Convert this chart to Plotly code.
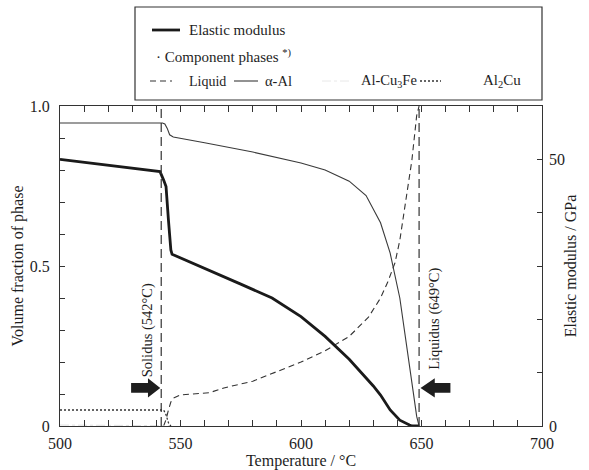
import plotly.graph_objects as go

# Elastic modulus (GPa) versus temperature (°C)
temp_modulus = [500, 520, 541.5, 543, 544, 545, 546, 546.5, 560, 575, 588, 600,
                610, 620, 630, 633, 637, 641, 645, 646, 649]
modulus = [50.0, 48.9, 47.7, 46.1, 44.9, 38.6, 33.0, 32.2, 29.6, 26.6, 24.0, 20.5,
           16.8, 12.5, 7.5, 5.8, 3.0, 1.1, 0.2, 0.0, 0.0]

# Volume fraction of the component phases
temp_liquid = [543, 544, 545, 546, 547, 550, 555, 562, 568, 580, 590, 600, 610,
               620, 628, 633, 636, 639, 641, 643, 645, 646, 647, 648, 649]
liquid = [0.0, 0.02, 0.05, 0.075, 0.087, 0.097, 0.10, 0.104, 0.119, 0.14, 0.17, 0.20,
          0.235, 0.28, 0.34, 0.40, 0.45, 0.51, 0.58, 0.675, 0.77, 0.83, 0.90, 0.97, 1.0]

temp_alpha = [500, 542.5, 543.5, 544.5, 545.5, 547, 560, 580, 600, 610, 620, 627,
              633, 637, 641, 644, 646.5, 648, 649]
alpha_al = [0.947, 0.947, 0.944, 0.93, 0.91, 0.903, 0.885, 0.856, 0.822, 0.80, 0.765,
            0.72, 0.635, 0.54, 0.40, 0.25, 0.11, 0.03, 0.0]

temp_cu3fe = [500, 544, 545, 546]
al_cu3fe = [0.003, 0.003, 0.001, 0.0]

temp_al2cu = [500, 543, 544, 545, 546]
al2cu = [0.05, 0.05, 0.035, 0.01, 0.0]

solidus = 542
liquidus = 649

x_ticks = [500, 550, 600, 650, 700]
y_ticks = [0, 0.5, 1.0]
y_tick_text = ["0", "0.5", "1.0"]
e_ticks = [0, 50]

FONT = "Liberation Serif"
INK = "#1e1e1e"

fig = go.Figure()

fig.add_trace(go.Scatter(x=temp_liquid, y=liquid, mode="lines", name="Liquid",
                         line=dict(color="#333", width=1.1, dash="6px,4px")))
fig.add_trace(go.Scatter(x=temp_alpha, y=alpha_al, mode="lines", name="α-Al",
                         line=dict(color="#3a3a3a", width=1.1)))
fig.add_trace(go.Scatter(x=temp_cu3fe, y=al_cu3fe, mode="lines", name="Al-Cu3Fe",
                         line=dict(color="#d8d8d8", width=0.8, dash="dashdot")))
fig.add_trace(go.Scatter(x=temp_al2cu, y=al2cu, mode="lines", name="Al2Cu",
                         line=dict(color="#333", width=1.3, dash="2px,2px")))
fig.add_trace(go.Scatter(x=temp_modulus, y=modulus, mode="lines", name="Elastic modulus",
                         yaxis="y2", line=dict(color="#1a1a1a", width=2.8)))

shapes = []
# solidus / liquidus markers
for t in (solidus, liquidus):
    shapes.append(dict(type="line", xref="x", yref="y", x0=t, x1=t, y0=0, y1=1,
                       line=dict(color="#333", width=1.2, dash="9px,5px")))

# block arrows pointing at the solidus and liquidus lines
yc, sh, hh = 0.119, 0.015, 0.03
shapes.append(dict(type="path", xref="x", yref="y", fillcolor=INK, line=dict(width=0),
                   path=f"M 529.5 {yc-sh} L 536.5 {yc-sh} L 536.5 {yc-hh} L 541.6 {yc} "
                        f"L 536.5 {yc+hh} L 536.5 {yc+sh} L 529.5 {yc+sh} Z"))
shapes.append(dict(type="path", xref="x", yref="y", fillcolor=INK, line=dict(width=0),
                   path=f"M 662 {yc-sh} L 655.5 {yc-sh} L 655.5 {yc-hh} L 649.6 {yc} "
                        f"L 655.5 {yc+hh} L 655.5 {yc+sh} L 662 {yc+sh} Z"))

# legend frame and samples
W, H, L0, B0 = 482.0, 320.0, 60.0, 426.0
def px(x):
    return (x - L0) / W
def py(y):
    return (B0 - y) / H

shapes.append(dict(type="rect", xref="paper", yref="paper", x0=px(135), x1=px(542),
                   y0=py(100), y1=py(7), line=dict(color="#333", width=1.2),
                   fillcolor="white"))
legend_samples = [
    (152, 180, 30, dict(color="#1a1a1a", width=2.8)),
    (150, 172, 81, dict(color="#333", width=1.1, dash="6px,4px")),
    (234, 258, 81, dict(color="#3a3a3a", width=1.1)),
    (322, 350, 81, dict(color="#e2e2e2", width=0.8, dash="dashdot")),
    (420, 441, 81, dict(color="#333", width=1.3, dash="2px,2px")),
]
for x0, x1, yy, ln in legend_samples:
    shapes.append(dict(type="line", xref="paper", yref="paper", x0=px(x0), x1=px(x1),
                       y0=py(yy), y1=py(yy), line=ln))

annotations = []
legend_text = [
    (187, 30, "Elastic modulus", 15),
    (154, 56, "· Component phases <sup>*)</sup>", 15),
    (187, 81, "Liquid", 14),
    (263, 81, "α-Al", 14.5),
    (359, 81, "Al-Cu<sub>3</sub>Fe", 14.5),
    (481, 81, "Al<sub>2</sub>Cu", 15),
]
for x, y, t, s in legend_text:
    annotations.append(dict(xref="paper", yref="paper", x=px(x), y=py(y), text=t,
                            showarrow=False, xanchor="left", yanchor="middle",
                            font=dict(family=FONT, size=s, color=INK)))

annotations.append(dict(xref="x", yref="y", x=536.2, y=0.30,
                        text=f"Solidus ({solidus}°C)", textangle=-90, showarrow=False,
                        font=dict(family=FONT, size=14.5, color=INK)))
annotations.append(dict(xref="x", yref="y", x=655.6, y=0.335,
                        text=f"Liquidus ({liquidus}°C)", textangle=-90, showarrow=False,
                        font=dict(family=FONT, size=14.5, color=INK)))

axis_font = dict(family=FONT, size=16, color=INK)

fig.update_layout(
    width=589, height=470,
    margin=dict(l=60, r=47, t=106, b=44, autoexpand=False),
    paper_bgcolor="white", plot_bgcolor="white",
    showlegend=False,
    shapes=shapes,
    annotations=annotations,
    xaxis=dict(range=[500, 700], tickvals=x_ticks, ticks="inside", ticklen=6,
               tickcolor="#333", tickfont=axis_font, showline=True, linecolor="#333",
               linewidth=1.2, mirror="allticks", showgrid=False, zeroline=False,
               ticklabelstandoff=3, automargin=False,
               minor=dict(dtick=10, ticks="inside", ticklen=4, tickcolor="#333"),
               title=dict(text="Temperature / °C", font=axis_font, standoff=0)),
    yaxis=dict(range=[0, 1.0], tickvals=y_ticks, ticktext=y_tick_text, ticks="inside",
               ticklen=5, tickcolor="#333", tickfont=axis_font, showline=True,
               linecolor="#333", linewidth=1.2, mirror=True, showgrid=False,
               zeroline=False, ticklabelstandoff=6, automargin=False,
               minor=dict(dtick=0.1, ticks="inside", ticklen=5, tickcolor="#333"),
               title=dict(text="Volume fraction of phase", font=axis_font, standoff=2)),
    yaxis2=dict(range=[0, 60], overlaying="y", side="right", tickvals=e_ticks,
                ticks="inside", ticklen=5, tickcolor="#333", tickfont=axis_font,
                showline=False, showgrid=False, zeroline=False, ticklabelstandoff=6,
                automargin=False,
                minor=dict(dtick=10, ticks="inside", ticklen=5, tickcolor="#333"),
                title=dict(text="Elastic modulus / GPa", font=axis_font, standoff=0)),
)

fig.write_html("out.html")
